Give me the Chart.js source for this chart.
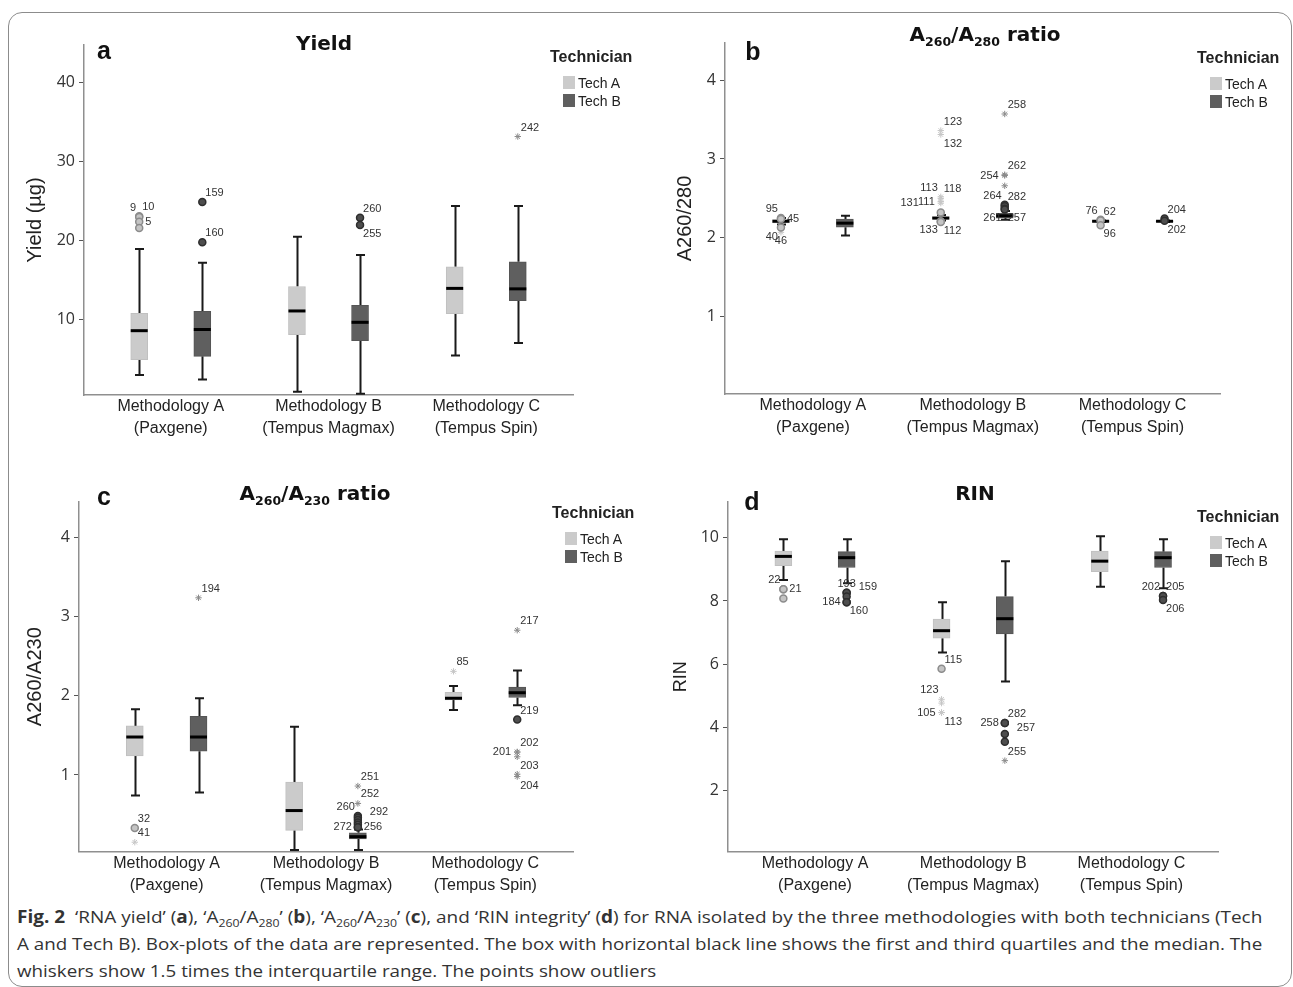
<!DOCTYPE html>
<html><head><meta charset="utf-8">
<script src="https://cdn.jsdelivr.net/npm/chart.js@4.4.1/dist/chart.umd.min.js"></script>
<style>
html,body{margin:0;padding:0;background:#fff;}
body{width:1293px;height:987px;position:relative;overflow:hidden;font-family:'Liberation Sans',Arial,sans-serif;color:#222;}
.frame{position:absolute;left:8px;top:12px;width:1284px;height:975px;border:1.5px solid #8c8c8c;border-radius:14px;box-sizing:border-box;}
.panel{position:absolute;}
.panel canvas{position:absolute;left:0;top:0;}
.t{position:absolute;white-space:nowrap;line-height:1;}
.title{font-family:'DejaVu Sans',sans-serif;font-weight:bold;font-size:20px;color:#111;transform:translate(-50%,-50%);}
.sub{font-size:12.5px;position:relative;top:5px;}
.letter{font-family:'Liberation Sans',Arial,sans-serif;font-weight:bold;font-size:25px;color:#111;transform:translate(-50%,-50%);}
.legt{font-weight:bold;font-size:16px;color:#222;transform:translateY(-50%);}
.legi{font-size:14px;color:#222;transform:translateY(-50%);}
.sw{position:absolute;width:12px;height:13px;}
.cap{position:absolute;left:17px;font-family:'Open Sans',sans-serif;font-size:17px;color:#333;white-space:nowrap;line-height:1;display:inline-block;transform-origin:left center;transform:translateY(-50%);}
.cap .s{font-size:11px;position:relative;top:4px;}
</style>
</head><body>
<div class="frame"></div>
<div class="cap" id="cap1" style="top:916px"><b>Fig. 2</b>&nbsp; ‘RNA yield’ (<b>a</b>), ‘A<span class="s">260</span>/A<span class="s">280</span>’ (<b>b</b>), ‘A<span class="s">260</span>/A<span class="s">230</span>’ (<b>c</b>), and ‘RIN integrity’ (<b>d</b>) for RNA isolated by the three methodologies with both technicians (Tech</div>
<div class="cap" id="cap2" style="top:943px">A and Tech B). Box-plots of the data are represented. The box with horizontal black line shows the first and third quartiles and the median. The</div>
<div class="cap" id="cap3" style="top:970px">whiskers show 1.5 times the interquartile range. The points show outliers</div>
<script>
// ---------- DATA ----------
const categories = [['Methodology A','(Paxgene)'],['Methodology B','(Tempus Magmax)'],['Methodology C','(Tempus Spin)']];
const technicians = ['Tech A','Tech B'];

// Box stats per category: [lower whisker, Q1, median, Q3, upper whisker]
const yieldTicks = [10,20,30,40];
const yieldTechA = [[3.0,4.94,8.6,10.8,18.95],[0.85,8.1,11.1,14.2,20.5],[5.44,10.76,13.96,16.7,24.4]];
const yieldTechB = [[2.4,5.35,8.75,11.05,17.2],[0.6,7.34,9.66,11.8,18.2],[7.05,12.4,13.9,17.34,24.4]];
// Outliers: [category index, value, case label]
const yieldCirclesA = [[0,23.1,'10'],[0,23.0,'9'],[0,22.4,'5'],[0,21.6,'']];
const yieldCirclesB = [[0,24.9,'159'],[0,19.8,'160'],[1,22.9,'260'],[1,22.0,'255']];
const yieldStarsA = [];
const yieldStarsB = [[2,33.2,'242']];

const a280Ticks = [1,2,3,4];
const a280TechA = [[2.17,2.19,2.21,2.23,2.25],[2.22,2.235,2.25,2.27,2.29],[2.20,2.205,2.21,2.215,2.22]];
const a280TechB = [[2.03,2.135,2.186,2.237,2.28],[2.23,2.25,2.28,2.31,2.34],[2.20,2.205,2.21,2.215,2.22]];
const a280CirclesA = [[0,2.25,'95'],[0,2.24,'45'],[0,2.13,'40'],[1,2.32,''],[1,2.21,'133'],[1,2.20,'112'],[2,2.23,'76'],[2,2.22,'62'],[2,2.16,'96']];
const a280CirclesB = [[1,2.42,'264'],[1,2.40,'282'],[1,2.37,'261'],[1,2.36,'257'],[2,2.245,'204'],[2,2.215,'202']];
const a280StarsA = [[0,2.07,'46'],[1,3.36,'123'],[1,3.31,'132'],[1,2.52,'113'],[1,2.50,'118'],[1,2.46,'111'],[1,2.44,'131']];
const a280StarsB = [[1,3.57,'258'],[1,2.80,'262'],[1,2.79,'254'],[1,2.66,'']];

const a230Ticks = [1,2,3,4];
const a230TechA = [[0.74,1.24,1.48,1.62,1.83],[0.05,0.30,0.55,0.91,1.61],[1.82,1.95,1.97,2.045,2.125]];
const a230TechB = [[0.78,1.30,1.48,1.74,1.97],[0.05,0.19,0.22,0.27,0.31],[1.88,1.98,2.04,2.11,2.32]];
const a230CirclesA = [[0,0.33,'32']];
const a230CirclesB = [[1,0.48,'260'],[1,0.46,'292'],[1,0.43,''],[1,0.40,''],[1,0.37,''],[1,0.34,'272'],[1,0.34,'256'],[2,1.70,'219']];
const a230StarsA = [[0,0.15,'41'],[2,2.31,'85']];
const a230StarsB = [[0,3.24,'194'],[1,0.86,'251'],[1,0.64,'252'],[2,2.83,'217'],[2,1.29,'202'],[2,1.29,'201'],[2,1.23,'203'],[2,1.01,''],[2,0.98,'204']];

const rinTicks = [2,4,6,8,10];
const rinTechA = [[8.66,9.12,9.41,9.58,9.95],[6.37,6.82,7.06,7.43,7.96],[8.45,8.93,9.26,9.58,10.05]];
const rinTechB = [[8.56,9.06,9.37,9.56,9.95],[5.45,6.96,7.44,8.14,9.26],[8.40,9.06,9.37,9.56,9.95]];
const rinCirclesA = [[0,8.37,'22'],[0,8.37,'21'],[0,8.08,''],[1,5.86,'115']];
const rinCirclesB = [[0,8.26,'193'],[0,8.26,'159'],[0,8.14,''],[0,7.96,'184'],[0,7.96,'160'],[1,4.14,'282'],[1,4.14,'258'],[1,3.79,'257'],[1,3.55,''],[2,8.16,'202'],[2,8.16,'205'],[2,8.03,'206']];
const rinStarsA = [[1,4.89,'123'],[1,4.77,''],[1,4.47,'105'],[1,4.47,'113']];
const rinStarsB = [[1,2.95,'255']];

// ---------- LABEL PLACEMENT (layout only) ----------
const yieldLabelPos = {'10':'ne','9':'nw','5':'e','159':'ne','160':'ne','260':'ne','255':'se','242':'ne'};
const a280LabelPos = {'95':'nw','45':'e','40':'sw','46':'s','133':'sw','112':'se','76':'nw','62':'ne','96':'se','123':'ne','132':'se','113':'nw','118':'ne','111':'w','131':'ww','264':'nw','282':'ne','261':'sw','257':'se','204':'ne','202':'se','258':'ne','262':'ne','254':'w'};
const a230LabelPos = {'32':'ne','41':'ne','194':'ne','251':'ne','252':'ne','260':'nw','292':'nee','272':'w','256':'e','85':'ne','217':'ne','219':'ne','202':'ne','201':'w','203':'se','204':'se'};
const rinLabelPos = {'22':'nw','21':'e','115':'ne','123':'nw','105':'w','113':'se','193':'n','159':'nee','184':'w','160':'se','282':'ne','258':'w','257':'nee','255':'ne','202':'nw','205':'ne','206':'se'};
const anchorOffsets = {ne:[3,-9,'left'],nw:[-3,-9,'right'],se:[3,9,'left'],sw:[-3,9,'right'],e:[6,0,'left'],w:[-6,0,'right'],n:[0,-9,'center'],s:[0,9,'center'],ww:[-22,0,'right'],nee:[12,-6,'left']};

// ---------- STYLE ----------
const techOffset = [-0.2, 0.2];
const boxFill = ['#cbcbcb','#5f5f5f'];
const boxEdge = ['#c0c0c0','#555555'];
const circleFill = ['#c4c4c4','#4e4e4e'];
const circleEdge = ['#8c8c8c','#2e2e2e'];
const starColor = ['#c6c6c6','#8a8a8a'];

const panels = [
  {letter:'a', title:'Yield', yTitle:'Yield (µg)', yTitleSize:20, yTitlePad:23, left:0, top:0, w:646, h:460,
   area:{l:84,r:573,t:45,b:395}, yMin:0.45, yMax:44.8, ticks:yieldTicks,
   titleX:324, titleY:43, letterX:104, letterY:50, legX:550, legY:57,
   boxes:[yieldTechA,yieldTechB], circles:[yieldCirclesA,yieldCirclesB], stars:[yieldStarsA,yieldStarsB], labelPos:yieldLabelPos},
  {letter:'b', title:'A<span class="sub">260</span>/A<span class="sub">280</span> ratio', yTitle:'A260/280', yTitleSize:20, yTitlePad:28, left:645, top:0, w:646, h:460,
   area:{l:80,r:575.5,t:43,b:394}, yMin:0.02, yMax:4.47, ticks:a280Ticks,
   titleX:340, titleY:34, letterX:108, letterY:51, legX:552, legY:58,
   boxes:[a280TechA,a280TechB], circles:[a280CirclesA,a280CirclesB], stars:[a280StarsA,a280StarsB], labelPos:a280LabelPos},
  {letter:'c', title:'A<span class="sub">260</span>/A<span class="sub">230</span> ratio', yTitle:'A260/A230', yTitleSize:20, yTitlePad:23, left:0, top:470, w:646, h:440,
   area:{l:79,r:573,t:31.7,b:381.7}, yMin:0.03, yMax:4.455, ticks:a230Ticks,
   titleX:315, titleY:23, letterX:104, letterY:26, legX:552, legY:42.7,
   boxes:[a230TechA,a230TechB], circles:[a230CirclesA,a230CirclesB], stars:[a230StarsA,a230StarsB], labelPos:a230LabelPos},
  {letter:'d', title:'RIN', yTitle:'RIN', yTitleSize:18, yTitlePad:25, left:645, top:470, w:646, h:440,
   area:{l:83,r:573.4,t:31.7,b:381.7}, yMin:0.07, yMax:11.14, ticks:rinTicks,
   titleX:330, titleY:23, letterX:107, letterY:31, legX:552, legY:46.7,
   boxes:[rinTechA,rinTechB], circles:[rinCirclesA,rinCirclesB], stars:[rinStarsA,rinStarsB], labelPos:rinLabelPos}
];

function boxPlugin(spec){
  return {
    id:'boxplot_'+spec.letter,
    beforeDatasetsDraw(chart){
      const {ctx, scales:{x,y}} = chart;
      ctx.save();
      ctx.strokeStyle = '#1a1a1a'; ctx.lineWidth = 2;
      spec.boxes.forEach((set,t)=>set.forEach((s,i)=>{
        const px = Math.round(x.getPixelForValue(i+techOffset[t]))+0.5;
        const yLo=y.getPixelForValue(s[0]), yQ1=y.getPixelForValue(s[1]), yQ3=y.getPixelForValue(s[3]), yHi=y.getPixelForValue(s[4]);
        ctx.beginPath();
        ctx.moveTo(px,yLo); ctx.lineTo(px,yQ1);
        ctx.moveTo(px,yQ3); ctx.lineTo(px,yHi);
        ctx.moveTo(px-4.5,yLo); ctx.lineTo(px+4.5,yLo);
        ctx.moveTo(px-4.5,yHi); ctx.lineTo(px+4.5,yHi);
        ctx.stroke();
      }));
      ctx.restore();
    },
    afterDatasetDraw(chart,args){
      if(args.meta.type!=='bar') return;
      const t = chart.data.datasets[args.index].techIndex;
      const {ctx, scales:{x,y}} = chart;
      ctx.save(); ctx.strokeStyle='#000'; ctx.lineWidth=3;
      spec.boxes[t].forEach((s,i)=>{
        const px = x.getPixelForValue(i+techOffset[t]);
        const ym = y.getPixelForValue(s[2]);
        ctx.beginPath(); ctx.moveTo(px-8.5,ym); ctx.lineTo(px+8.5,ym); ctx.stroke();
      });
      ctx.restore();
    },
    afterDatasetsDraw(chart){
      const {ctx, scales:{x,y}} = chart;
      ctx.save();
      ctx.font = '11px "Liberation Sans", Arial, sans-serif';
      ctx.fillStyle = '#333'; ctx.textBaseline = 'middle';
      [spec.circles, spec.stars].forEach(group=>group.forEach((list,t)=>list.forEach(o=>{
        if(!o[2]) return;
        const a = anchorOffsets[spec.labelPos[o[2]] || 'ne'];
        const px = x.getPixelForValue(o[0]+techOffset[t]);
        const py = y.getPixelForValue(o[1]);
        ctx.textAlign = a[2];
        ctx.fillText(o[2], px+a[0], py+a[1]);
      })));
      ctx.restore();
    }
  };
}

function buildPanel(spec){
  const wrap = document.createElement('div');
  wrap.className='panel';
  wrap.style.cssText = `left:${spec.left}px;top:${spec.top}px;width:${spec.w}px;height:${spec.h}px;`;
  const cv = document.createElement('canvas');
  cv.width = spec.w; cv.height = spec.h;
  cv.style.width = spec.w+'px'; cv.style.height = spec.h+'px';
  wrap.appendChild(cv);
  const add = (cls, html, x, y) => { const d=document.createElement('div'); d.className='t '+cls; d.innerHTML=html; d.style.left=x+'px'; d.style.top=y+'px'; wrap.appendChild(d); return d; };
  add('title', spec.title, spec.titleX, spec.titleY);
  add('letter', spec.letter, spec.letterX, spec.letterY);
  add('legt', 'Technician', spec.legX, spec.legY);
  technicians.forEach((name,t)=>{
    const sw = document.createElement('div'); sw.className='sw';
    sw.style.cssText += `left:${spec.legX+13}px;top:${spec.legY+19+t*18}px;background:${boxFill[t]};`;
    wrap.appendChild(sw);
    add('legi', name, spec.legX+28, spec.legY+26+t*18);
  });
  document.body.appendChild(wrap);

  const datasets = [];
  spec.circles.forEach((list,t)=>datasets.push({type:'scatter', label:technicians[t]+' outliers',
    data:list.map(o=>({x:o[0]+techOffset[t], y:o[1]})), pointStyle:'circle', pointRadius:3.5, pointHoverRadius:3.5,
    backgroundColor:circleFill[t], borderColor:circleEdge[t], borderWidth:1.5}));
  spec.stars.forEach((list,t)=>datasets.push({type:'scatter', label:technicians[t]+' extremes',
    data:list.map(o=>({x:o[0]+techOffset[t], y:o[1]})), pointStyle:'star', pointRadius:3.2, pointHoverRadius:3.2,
    backgroundColor:starColor[t], borderColor:starColor[t], borderWidth:1}));
  spec.boxes.forEach((set,t)=>datasets.push({type:'bar', label:technicians[t], techIndex:t,
    data:set.map((s,i)=>({x:i+techOffset[t], y:[s[1],s[3]]})), backgroundColor:boxFill[t], borderColor:boxEdge[t],
    borderWidth:1, borderSkipped:false, grouped:false, barThickness:17, maxBarThickness:17}));

  const a = spec.area;
  new Chart(cv, {
    type:'bar',
    data:{datasets},
    options:{
      responsive:false, animation:false, events:[],
      layout:{padding:{left:0, top:a.t, right:spec.w-a.r, bottom:0}},
      plugins:{legend:{display:false}, tooltip:{enabled:false}},
      scales:{
        x:{type:'linear', min:-0.55, max:2.55, offset:false,
           afterBuildTicks:(s)=>{ s.ticks = categories.map((c,i)=>({value:i})); },
           afterFit:(s)=>{ s.height = spec.h - a.b; },
           ticks:{callback:(v)=>categories[v], autoSkip:false, maxRotation:0, padding:1, color:'#222',
                  font:{family:'"Liberation Sans", Arial, sans-serif', size:16, lineHeight:1.375}},
           grid:{display:false, drawTicks:false},
           border:{display:true, color:'#8f8f8f', width:1.5}},
        y:{type:'linear', min:spec.yMin, max:spec.yMax,
           afterBuildTicks:(s)=>{ s.ticks = spec.ticks.map(v=>({value:v})); },
           afterFit:(s)=>{ s.width = a.l; },
           ticks:{callback:(v)=>String(v), padding:4, color:'#333',
                  font:{family:'"Open Sans", sans-serif', size:16}},
           grid:{display:true, drawOnChartArea:false, drawTicks:true, tickLength:5, color:'#555', lineWidth:1},
           border:{display:true, color:'#8f8f8f', width:1.5},
           title:{display:true, text:spec.yTitle, color:'#222', padding:{top:spec.yTitlePad, bottom:0},
                  font:{family:'"Liberation Sans", Arial, sans-serif', size:spec.yTitleSize}}}
      }
    },
    plugins:[boxPlugin(spec)]
  });
}
panels.forEach(buildPanel);

// fit caption lines to the reference line length (condensed face)
(function(){
  const target = 1245;
  const c1 = document.getElementById('cap1'), c2 = document.getElementById('cap2'), c3 = document.getElementById('cap3');
  const s1 = target / c1.offsetWidth, s2 = target / c2.offsetWidth;
  c1.style.transform = `translateY(-50%) scaleX(${s1})`;
  c2.style.transform = `translateY(-50%) scaleX(${s2})`;
  c3.style.transform = `translateY(-50%) scaleX(${s2})`;
})();
</script>
</body></html>
